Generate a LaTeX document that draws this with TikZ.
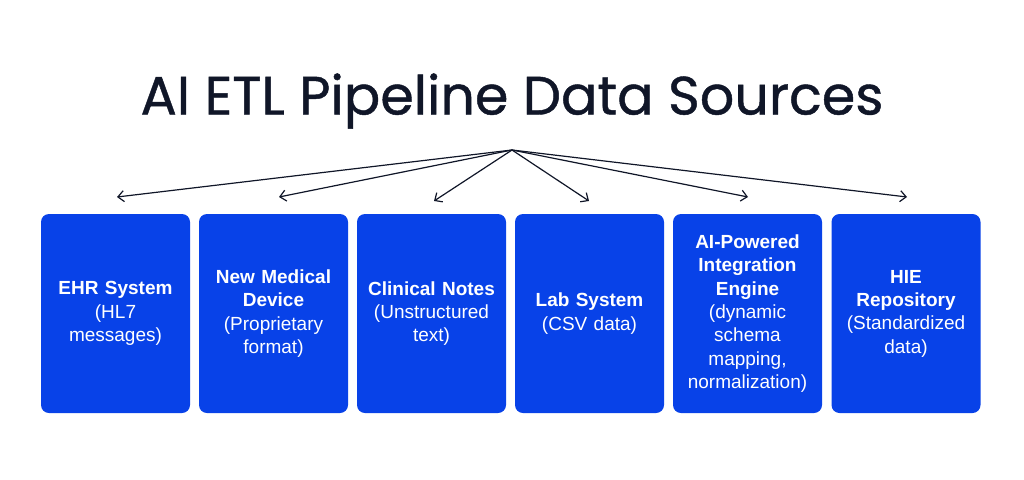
\documentclass[tikz,border=0pt]{standalone}
\usepackage{fontspec}
\setmainfont{Liberation Sans}
\newfontfamily\titlefont[FakeBold=0.8]{Poppins}
\usetikzlibrary{arrows.meta}
\definecolor{boxblue}{RGB}{8,66,232}
\definecolor{inkdark}{RGB}{16,22,40}
\begin{document}
\begin{tikzpicture}[x=1pt,y=-1pt,
  src/.style={fill=boxblue,rounded corners=8pt,minimum width=149pt,minimum height=199pt,
    text=white,align=center,text width=145pt,inner sep=0pt,font=\fontsize{19}{23.3}\selectfont},
  feed/.style={-{Straight Barb[length=6pt,width=11pt]},line width=1.2pt,draw=inkdark}]
\useasboundingbox (0,0) rectangle (1024,479);

% title
\node (title) at (512,101) {\titlefont\fontsize{54}{60}\selectfont\color{inkdark}AI ETL Pipeline Data Sources};
\coordinate (hub) at (512,150);

% sources
\node[src] (ehr) at (115.5,313.5) {\textbf{EHR System}\\(HL7\\messages)};
\node[src] (dev) at (273.5,313.5) {\textbf{New Medical}\\\textbf{Device}\\(Proprietary\\format)};
\node[src] (notes) at (431.5,313.5) {\textbf{Clinical Notes}\\(Unstructured\\text)};
\node[src] (lab) at (589.5,313.5) {\textbf{Lab System}\\(CSV data)};
\node[src] (ai) at (747.5,313.5) {\textbf{AI-Powered}\\\textbf{Integration}\\\textbf{Engine}\\(dynamic\\schema\\mapping,\\normalization)};
\node[src] (hie) at (906,313.5) {\textbf{HIE}\\\textbf{Repository}\\(Standardized\\data)};

% arrow ends
\coordinate (e1) at (117,197);
\coordinate (e2) at (279,197);
\coordinate (e3) at (434,201);
\coordinate (e4) at (589,201);
\coordinate (e5) at (748,197);
\coordinate (e6) at (907,197);
\foreach \i in {1,...,6}
  \draw[feed] (hub) -- (e\i);
\end{tikzpicture}
\end{document}
